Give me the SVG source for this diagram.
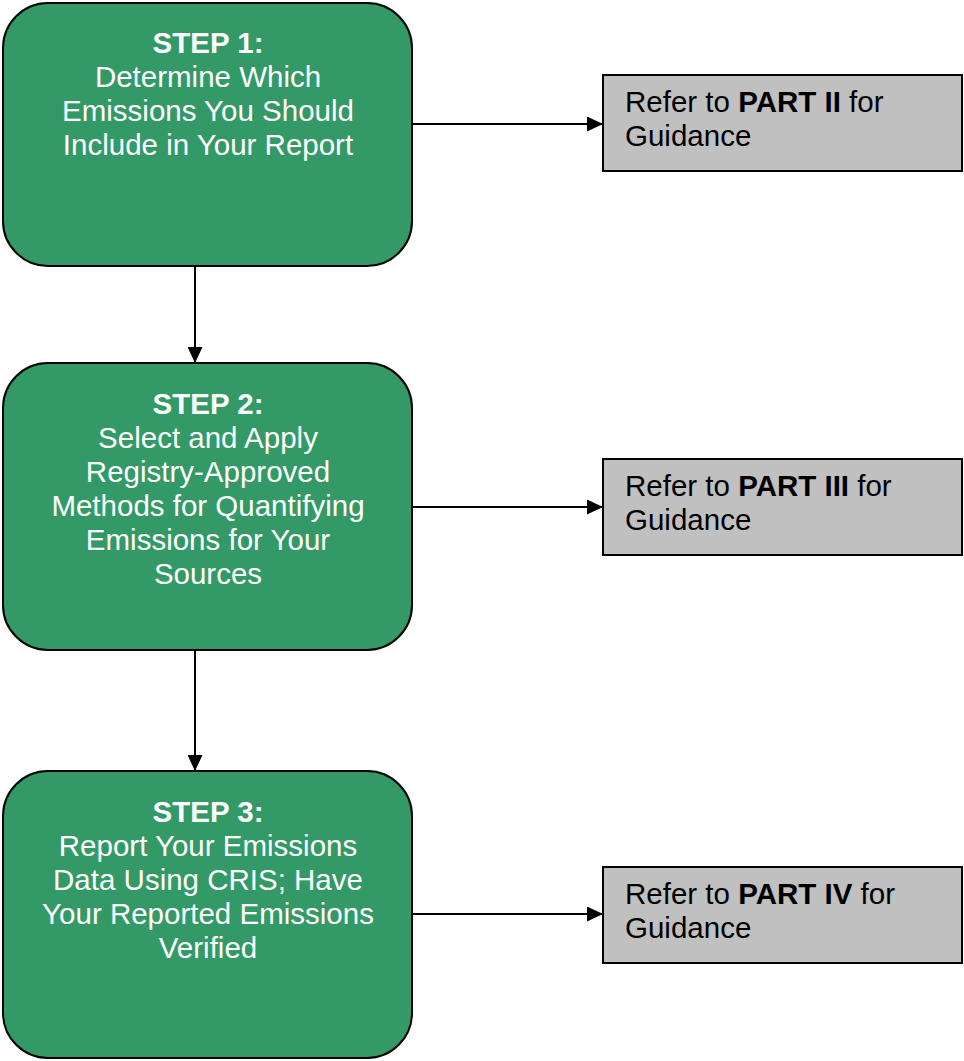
<svg xmlns="http://www.w3.org/2000/svg" width="964" height="1061" viewBox="0 0 964 1061">
<defs>
<style>
.step{fill:#339966;stroke:#000;stroke-width:2}
.ref{fill:#C0C0C0;stroke:#000;stroke-width:2}
.t{font-family:"Liberation Sans",Arial,sans-serif;font-size:29.5px;fill:#fff;text-anchor:middle}
.b{font-weight:bold}
.r{font-family:"Liberation Sans",Arial,sans-serif;font-size:29.5px;fill:#000}
.c{stroke:#000;stroke-width:2;fill:none;marker-end:url(#ah)}
</style>
<marker id="ah" markerWidth="16" markerHeight="15" refX="16" refY="7.5" orient="auto" markerUnits="userSpaceOnUse" viewBox="0 0 16 15">
<path d="M0,0 L16,7.5 L0,15 Z" fill="#000"/>
</marker>
</defs>
<rect width="964" height="1061" fill="#fff"/>
<g id="connectors">
<path class="c" d="M412,124 H603"/>
<path class="c" d="M412,507 H603"/>
<path class="c" d="M412,914 H603"/>
<path class="c" d="M195,266 V363"/>
<path class="c" d="M195,650 V771"/>
</g>
<g id="step1">
<rect class="step" x="3" y="3" width="409" height="263" rx="45"/>
<text class="t"><tspan class="b" x="208" y="53">STEP 1:</tspan><tspan x="208" y="87">Determine Which</tspan><tspan x="208" y="121">Emissions You Should</tspan><tspan x="208" y="155">Include in Your Report</tspan></text>
</g>
<g id="step2">
<rect class="step" x="3" y="363" width="409" height="287" rx="45"/>
<text class="t"><tspan class="b" x="208" y="414">STEP 2:</tspan><tspan x="208" y="448">Select and Apply</tspan><tspan x="208" y="482">Registry-Approved</tspan><tspan x="208" y="516">Methods for Quantifying</tspan><tspan x="208" y="550">Emissions for Your</tspan><tspan x="208" y="584">Sources</tspan></text>
</g>
<g id="step3">
<rect class="step" x="3" y="771" width="409" height="287" rx="45"/>
<text class="t"><tspan class="b" x="208" y="822">STEP 3:</tspan><tspan x="208" y="856">Report Your Emissions</tspan><tspan x="208" y="890">Data Using CRIS; Have</tspan><tspan x="208" y="924">Your Reported Emissions</tspan><tspan x="208" y="958">Verified</tspan></text>
</g>
<g id="ref1">
<rect class="ref" x="603" y="75" width="359" height="96"/>
<text class="r"><tspan x="625" y="112">Refer to <tspan class="b">PART II</tspan> for</tspan><tspan x="625" y="146">Guidance</tspan></text>
</g>
<g id="ref2">
<rect class="ref" x="603" y="459" width="359" height="96"/>
<text class="r"><tspan x="625" y="496">Refer to <tspan class="b">PART III</tspan> for</tspan><tspan x="625" y="530">Guidance</tspan></text>
</g>
<g id="ref3">
<rect class="ref" x="603" y="867" width="359" height="96"/>
<text class="r"><tspan x="625" y="904">Refer to <tspan class="b">PART IV</tspan> for</tspan><tspan x="625" y="938">Guidance</tspan></text>
</g>
</svg>
